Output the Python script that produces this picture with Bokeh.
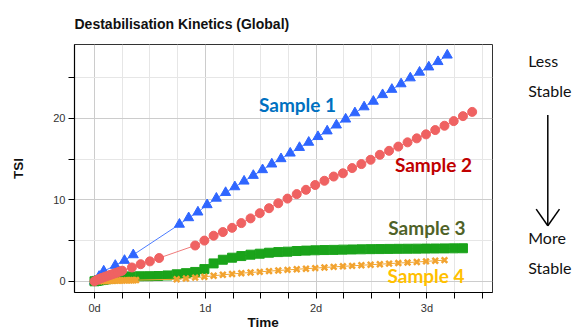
from bokeh.plotting import figure
from bokeh.models import Range1d, FixedTicker, Title
from bokeh.layouts import row
from bokeh.core.properties import value
from bokeh.embed import file_html
from bokeh.resources import INLINE

# ---------------- data (time in hours, TSI) ----------------
t1 = [0.0, 1.0, 2.0, 4.5, 6.5, 8.4, 18.4, 20.4, 22.4, 24.4, 26.4, 28.4, 30.4, 32.4, 34.4, 36.4,
      38.4, 40.4, 42.4, 44.4, 46.4, 48.4, 50.4, 52.4, 54.4, 56.4, 58.4, 60.4, 62.4, 64.4,
      66.4, 68.4, 70.4, 72.4, 74.4, 76.4]
v1 = [0.0, 0.6, 1.25, 1.95, 2.56, 3.25, 7.0, 7.8, 8.5, 9.4, 10.2, 10.9, 11.6, 12.3, 13.0, 13.7,
      14.4, 15.05, 15.74, 16.43, 17.07, 17.77, 18.46, 19.19, 19.92, 20.69, 21.42, 22.11, 22.92, 23.57,
      24.25, 24.98, 25.68, 26.32, 26.98, 27.78]

t2 = [0.0, 0.5, 1.0, 1.5, 2.0, 2.5, 3.0, 3.5, 4.0, 4.5, 5.0, 5.5, 6.0, 8.1, 10.0, 12.0, 14.0,
      21.8, 23.8, 25.8, 27.8, 29.8, 31.8, 33.8, 35.8, 37.8, 39.8, 41.8, 43.8, 45.8, 47.8, 49.8,
      51.8, 53.8, 55.8, 57.8, 59.8, 61.8, 63.8, 65.8, 67.8, 69.8, 71.8, 73.8, 75.8, 77.8, 79.8, 81.8]
v2 = [0.0, 0.15, 0.28, 0.4, 0.5, 0.6, 0.7, 0.8, 0.9, 1.0, 1.1, 1.2, 1.3, 1.7, 2.1, 2.45, 2.86,
      4.4, 5.0, 5.6, 6.05, 6.57, 7.15, 7.73, 8.37, 8.98, 9.59, 10.16, 10.71, 11.24, 11.83, 12.35,
      12.87, 13.27, 13.91, 14.4, 14.93, 15.54, 16.03, 16.55, 17.07, 17.56, 18.05, 18.58, 19.11, 19.68, 20.29, 20.81]

t3 = [0.0, 0.5, 1.0, 1.5, 2.0, 2.5, 3.0, 3.5, 4.0, 4.5, 5.0, 5.5, 6.0, 6.5, 7.7, 9.8, 11.8, 13.8,
      15.8, 17.8, 19.8, 21.8, 23.8, 25.8, 27.8, 29.8, 31.8, 33.8, 35.8, 37.8, 39.8, 41.8, 43.8,
      45.8, 47.8, 49.8, 51.8, 53.8, 55.8, 57.8, 59.8, 61.8, 63.8, 65.8, 67.8, 69.8, 71.8, 73.8,
      75.8, 77.8, 79.8]
v3 = [0.0, 0.05, 0.1, 0.15, 0.2, 0.24, 0.28, 0.32, 0.36, 0.4, 0.44, 0.48, 0.52, 0.55, 0.6, 0.62,
      0.63, 0.65, 0.72, 0.86, 1.0, 1.15, 1.5, 2.2, 2.65, 2.9, 3.1, 3.27, 3.39, 3.51, 3.59, 3.64, 3.72,
      3.77, 3.81, 3.84, 3.86, 3.89, 3.91, 3.93, 3.95, 3.96, 3.98, 3.99, 4.0, 4.01, 4.02, 4.03,
      4.04, 4.05, 4.06]

t4 = [0.0, 1.0, 1.5, 2.0, 2.5, 3.0, 3.5, 4.0, 4.5, 5.0, 5.5, 6.0, 6.5, 7.0, 7.5, 8.0, 8.5, 9.0,
      17.8, 19.8, 21.8, 23.8, 25.8, 27.8, 29.8, 31.8, 33.8, 35.8, 37.8, 39.8, 41.8, 43.8, 45.8,
      47.8, 49.8, 51.8, 53.8, 55.8, 57.8, 59.8, 61.8, 63.8, 65.8, 67.8, 69.8, 71.8, 73.8, 75.8]
v4 = [0.0, 0.01, 0.02, 0.03, 0.04, 0.05, 0.06, 0.07, 0.08, 0.09, 0.1, 0.1, 0.11, 0.12, 0.13, 0.14,
      0.14, 0.15, 0.25, 0.35, 0.45, 0.55, 0.68, 0.8, 0.9, 1.0, 1.08, 1.16, 1.25, 1.33, 1.4, 1.48,
      1.55, 1.62, 1.7, 1.77, 1.84, 1.9, 1.97, 2.04, 2.1, 2.17, 2.24, 2.3, 2.37, 2.45, 2.52, 2.6]

x_major = [0, 24, 48, 72]
x_minor = [6, 12, 18, 30, 36, 42, 54, 60, 66, 78, 84]
x_labels = ["0d", "1d", "2d", "3d"]
y_major = [0, 10, 20]
y_minor = [5, 15, 25]

title_text = "Destabilisation Kinetics (Global)"
x_title = "Time"
y_title = "TSI"
sample_names = ["Sample 1", "Sample 2", "Sample 3", "Sample 4"]
side_texts = ["Less", "Stable", "More", "Stable"]

# ---------------- main figure ----------------
p = figure(width=500, height=329, x_range=Range1d(-4.33, 86.2), y_range=Range1d(-1.375, 29.09),
           output_backend="svg", toolbar_location=None,
           min_border_left=74, min_border_right=8, min_border_top=42, min_border_bottom=37)
p.background_fill_color = "white"
p.border_fill_color = "white"
p.outline_line_color = "#333333"
p.outline_line_width = 1

p.title.text = title_text
p.title.align = "left"
p.title.text_font = "Liberation Sans"
p.title.text_font_style = "bold"
p.title.text_font_size = "14px"
p.title.text_color = "#111111"
p.title.standoff = 26

xt = FixedTicker(ticks=x_major, minor_ticks=x_minor)
yt = FixedTicker(ticks=y_major, minor_ticks=y_minor)
p.xaxis.ticker = xt
p.yaxis.ticker = yt
p.xgrid.ticker = xt
p.ygrid.ticker = yt
p.xaxis.major_label_overrides = {k: s for k, s in zip(x_major, x_labels)}

for ax in (p.xaxis, p.yaxis):
    ax.axis_line_color = "black"
    ax.axis_line_width = 1.2
    ax.major_tick_line_color = "black"
    ax.minor_tick_line_color = "black"
    ax.major_tick_out = 6
    ax.major_tick_in = 0
    ax.minor_tick_out = 6
    ax.minor_tick_in = 0
    ax.major_label_text_font = "Liberation Sans"
    ax.major_label_text_font_size = "11px"
    ax.major_label_text_color = "#333333"
    ax.major_label_standoff = 3

p.yaxis.axis_label = y_title
p.yaxis.axis_label_text_font = "Liberation Sans"
p.yaxis.axis_label_text_font_style = "bold"
p.yaxis.axis_label_text_font_size = "13.5px"
p.yaxis.axis_label_text_color = "#111111"
p.yaxis.axis_label_standoff = 24

p.add_layout(Title(text=x_title, align="left", offset=173, standoff=-8,
                   text_font="Liberation Sans", text_font_style="bold",
                   text_font_size="13.5px", text_color="#111111"), "below")

for g in (p.xgrid, p.ygrid):
    g.grid_line_color = "#cccccc"
    g.grid_line_width = 1
    g.minor_grid_line_color = "#e6e6e6"
    g.minor_grid_line_width = 1

# ---------------- series ----------------
p.line(t1, v1, line_color="#4d7dff", line_width=1)
p.scatter(t1, v1, marker="triangle", size=10, fill_color="#2f66ff", line_color="#2f66ff")

p.line(t3, v3, line_color="#22a822", line_width=1)
p.scatter(t3, v3, marker="square", size=9, fill_color="#1aa31a", line_color="#1aa31a")

p.line(t4, v4, line_color="#f2a630", line_width=1)
p.scatter(t4, v4, marker="x", size=8, line_color="#f2a330", line_width=2.5)

p.line(t2, v2, line_color="#ef7a7a", line_width=1)
p.scatter(t2, v2, marker="circle", size=9, fill_color="#ef6262", line_color="#ef6262")

# ---------------- sample labels ----------------
sample_colors = ["#0070C0", "#C00000", "#4F6228", "#FFC000"]
sample_x = [43.97, 73.42, 71.99, 71.8]
sample_y = [21.78, 14.36, 6.65, 0.76]
p.text(x=sample_x, y=sample_y, text=sample_names, text_color=sample_colors,
       text_font=value("Lato"), text_font_style="bold", text_font_size="19px",
       text_align="center", text_baseline="alphabetic")

# ---------------- side annotation (pixel-space helper figure, frame aligned to p) ----------------
q = figure(width=83, height=329, x_range=Range1d(500, 583), y_range=Range1d(292, 42),
           output_backend="svg", toolbar_location=None, x_axis_type=None, y_axis_type=None,
           min_border=0, min_border_left=0, min_border_right=0, min_border_top=0, min_border_bottom=0)
q.title.visible = False
q.grid.visible = False
q.outline_line_color = None
q.background_fill_color = "white"
q.border_fill_color = "white"

q.text(x=[527.7] * 4, y=[58, 88, 236.3, 266.3], text=side_texts, text_color="#111111",
       text_font=value("Lato"), text_font_size="16px", text_align="left",
       text_baseline="alphabetic")
q.segment(x0=[547.3, 535.7, 559.0], y0=[113, 208, 208], x1=[547.3, 547.3, 547.3],
          y1=[224.7, 224.7, 224.7], line_color="black", line_width=1.5)

layout = row(p, q, spacing=0)
open("out.html", "w").write(file_html(layout, INLINE))
